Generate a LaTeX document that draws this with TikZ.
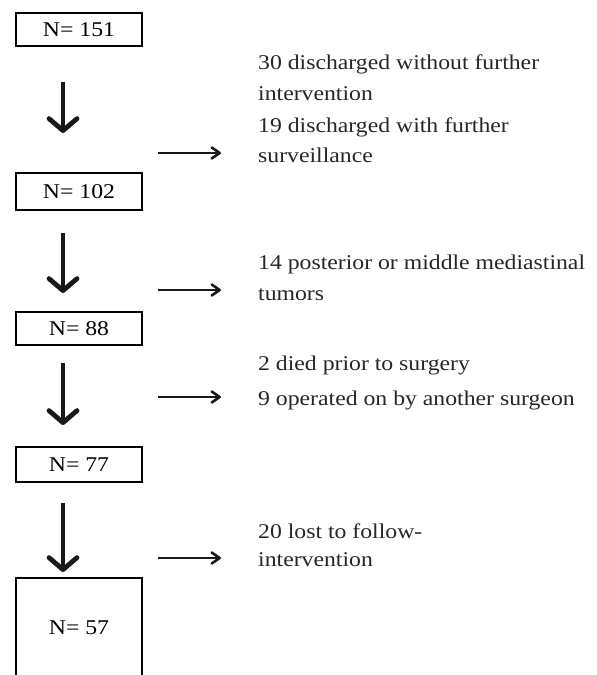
\documentclass[tikz,border=0pt]{standalone}
\usepackage{fontspec}
\setmainfont{Liberation Serif}[FakeStretch=1.13]
\usetikzlibrary{arrows.meta}
\begin{document}
\begin{tikzpicture}[x=1pt,y=-1pt,
  box/.style={draw, line width=1.1pt, minimum width=126pt, inner sep=0pt, font=\fontsize{21}{25}\selectfont},
  txt/.style={anchor=base west, inner sep=0pt, text=black!85, font=\fontsize{21}{25}\selectfont},
  down/.style={line width=4.3pt, draw=black!90, -{Straight Barb[length=12pt,width=28pt,line width=4.8pt,round]}},
  side/.style={line width=2pt, draw=black!90, -{Straight Barb[length=8pt,width=11pt,line width=2.6pt,round]}}]
\useasboundingbox (0,0) rectangle (597,675);

\node[box, minimum height=33pt] (b1) at (79,29.5) {N= 151};
\node[box, minimum height=37pt] (b2) at (79,191.5) {N= 102};
\node[box, minimum height=33pt] (b3) at (79,328.5) {N= 88};
\node[box, minimum height=35pt] (b4) at (79,464.5) {N= 77};
\node[box, minimum height=100pt] (b5) at (79,628) {N= 57};

\coordinate (d1s) at (63,82);  \coordinate (d1e) at (63,133);
\coordinate (d2s) at (63,233); \coordinate (d2e) at (63,293);
\coordinate (d3s) at (63,363); \coordinate (d3e) at (63,425);
\coordinate (d4s) at (63,503); \coordinate (d4e) at (63,572);
\draw[down] (d1s) -- (d1e);
\draw[down] (d2s) -- (d2e);
\draw[down] (d3s) -- (d3e);
\draw[down] (d4s) -- (d4e);

\coordinate (r1s) at (158,153); \coordinate (r1e) at (221,153);
\coordinate (r2s) at (158,290); \coordinate (r2e) at (221,290);
\coordinate (r3s) at (158,397); \coordinate (r3e) at (221,397);
\coordinate (r4s) at (158,558); \coordinate (r4e) at (221,558);
\draw[side] (r1s) -- (r1e);
\draw[side] (r2s) -- (r2e);
\draw[side] (r3s) -- (r3e);
\draw[side] (r4s) -- (r4e);

\node[txt] (t1a) at (258,69) {30 discharged without further};
\node[txt] (t1b) at (258,100) {intervention};
\node[txt] (t1c) at (258,132) {19 discharged with further};
\node[txt] (t1d) at (258,162) {surveillance};
\node[txt] (t2a) at (258,269) {14 posterior or middle mediastinal};
\node[txt] (t2b) at (258,300) {tumors};
\node[txt] (t3a) at (258,370) {2 died prior to surgery};
\node[txt] (t3b) at (258,405) {9 operated on by another surgeon};
\node[txt] (t4a) at (258,538) {20 lost to follow-};
\node[txt] (t4b) at (258,566) {intervention};
\end{tikzpicture}
\end{document}
